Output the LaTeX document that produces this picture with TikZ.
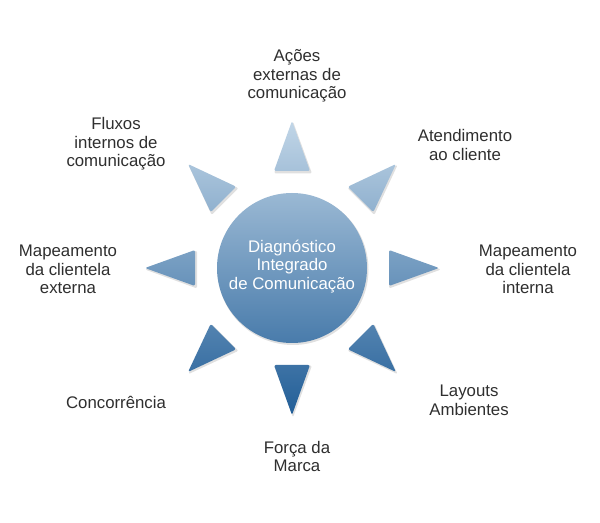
\documentclass[tikz,border=0pt]{standalone}
\usepackage{fontspec}
\setmainfont{Liberation Sans}
\usetikzlibrary{calc}
\definecolor{labelgray}{HTML}{2F2F2F}
\definecolor{sunTop}{HTML}{C3D7E8}
\definecolor{sunMid}{HTML}{6E97BC}
\definecolor{sunBot}{HTML}{1F5C96}
\begin{document}
\begin{tikzpicture}[x=0.75pt,y=-0.75pt,
  lbl/.style={align=center,text=labelgray,font=\fontsize{12.6}{13.9}\selectfont,inner sep=0pt},
  ctext/.style={lbl,text=white}]
\useasboundingbox[fill=white] (0,0) rectangle (600,523);
\coordinate (c) at (292,268);
% faint shadow
\fill[black,opacity=0.12,rounded corners=1.5pt] ($(c)+(1,1.5)$) circle[radius=75.5]
    foreach \a in {0,45,...,315}{
      ($(c)+(1,1.5)+(\a:148)$) -- ($(c)+(1,1.5)+(\a:96)+(\a+90:19)$) -- ($(c)+(1,1.5)+(\a:96)+(\a-90:19)$) -- cycle
    };
\begin{scope}
  \clip[rounded corners=1.5pt] (c) circle[radius=75]
    foreach \a in {0,45,...,315}{
      ($(c)+(\a:147)$) -- ($(c)+(\a:97)+(\a+90:18)$) -- ($(c)+(\a:97)+(\a-90:18)$) -- cycle
    };
  \shade[top color=sunTop,middle color=sunMid,bottom color=sunBot] (120,118) rectangle (470,420);
\end{scope}
\node[ctext] (centre) at (292,266.5) {Diagnóstico\\Integrado\\de Comunicação};
\node[lbl] (acoes) at (297,76) {Ações\\externas de\\comunicação};
\node[lbl] (fluxos) at (116,144) {Fluxos\\internos de\\comunicação};
\node[lbl] (atend) at (465,145) {Atendimento\\ao cliente};
\node[lbl] (mapext) at (68,269.5) {Mapeamento\\da clientela\\externa};
\node[lbl] (mapint) at (528,269.5) {Mapeamento\\da clientela\\interna};
\node[lbl] (conc) at (116,402) {Concorrência};
\node[lbl] (layouts) at (469,400.5) {Layouts\\Ambientes};
\node[lbl] (forca) at (297,456.5) {Força da\\Marca};
\end{tikzpicture}
\end{document}
